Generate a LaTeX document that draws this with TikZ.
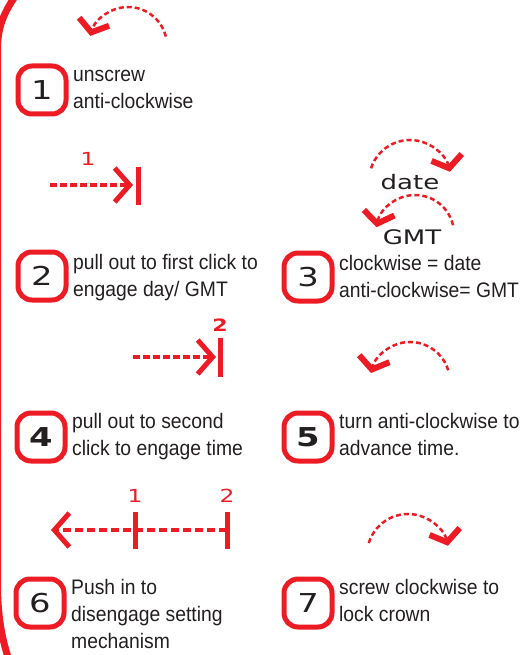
\documentclass[tikz,border=0pt]{standalone}
\usepackage{fontspec}
\setmainfont{Liberation Sans}[FakeStretch=0.92]
\newfontfamily\techfont{DejaVu Sans}[FakeStretch=1.3]
\usetikzlibrary{arrows.meta,positioning}
\definecolor{watchred}{HTML}{ED1C24}
\definecolor{inkgray}{HTML}{231F20}

\begin{document}
\begin{tikzpicture}[x=1pt,y=-1pt]
            \tikzset{
                badge/.style={draw=watchred, line width=5pt, rounded corners=14pt, minimum width=48pt, minimum height=48pt, inner sep=0pt, text=inkgray, font=\techfont\fontsize{26}{26}\selectfont},
                heavy/.style={font=\techfont\bfseries\fontsize{26}{26}\selectfont},
                steptext/.style={align=left, inner sep=0pt, text=inkgray, font=\fontsize{21}{27}\selectfont},
                turn/.style={watchred, line width=2.5pt, dash pattern=on 5pt off 3pt, -{Straight Barb[length=11pt, width=31pt, line width=6pt]}},
                pull/.style={watchred, line width=3.5pt, dash pattern=on 7pt off 3pt, -{Straight Barb[length=15pt, width=34pt, line width=5pt]}},
                click/.style={watchred, line width=5pt},
                marker/.style={text=watchred, inner sep=0pt, font=\techfont\fontsize{18}{18}\selectfont},
                dial/.style={text=inkgray, inner sep=0pt, font=\techfont\fontsize{20}{20}\selectfont}
            }
            \useasboundingbox (0,0) rectangle (529,655);
            \draw[watchred, line width=7pt] (14,-2) .. controls (2,16) and (-2.5,30) .. (-2.5,50) -- (-2.5,585) .. controls (-2.5,615) and (2,640) .. (9,660);

            \node[badge] (b1) at (42,90) {1};
            \node[badge] (b2) at (42,276) {2};
            \node[badge] (b3) at (308,277) {3};
            \node[badge, heavy] (b4) at (41,437) {4};
            \node[badge, heavy] (b5) at (308,437) {5};
            \node[badge] (b6) at (40,603) {6};
            \node[badge] (b7) at (308,603) {7};

            \node[steptext, right=4.5pt of b1] (t1) {\strut unscrew\\anti-clockwise\strut};
            \node[steptext, right=4.5pt of b2, yshift=-2pt] (t2) {\strut pull out to first click to\\engage day/ GMT\strut};
            \node[steptext, right=4.5pt of b3, yshift=-2pt] (t3) {\strut clockwise = date\\anti-clockwise= GMT\strut};
            \node[steptext, right=4.5pt of b4] (t4) {\strut pull out to second\\click to engage time\strut};
            \node[steptext, right=4.5pt of b5] (t5) {\strut turn anti-clockwise to\\advance time.\strut};
            \node[steptext, right=4.5pt of b6, yshift=-13.5pt] (t6) {\strut Push in to\\disengage setting\\mechanism\strut};
            \node[steptext, right=4.5pt of b7] (t7) {\strut screw clockwise to\\lock crown\strut};

            \draw[turn] (128,46) ++(-14:39) arc[start angle=-14, end angle=-165, radius=39];

            \coordinate (p1) at (50,185);
            \coordinate (q1) at (133,185);
            \draw[pull] (p1) -- (q1);
            \draw[click] (138,167) coordinate (c1) -- (138,205);
            \node[marker] (m1) at (88,159) {1};

            \node[dial] (date) at (410,182) {date};
            \node[dial] (gmt) at (412,237) {GMT};
            \draw[turn] (410,181) ++(-162:41) arc[start angle=-162, end angle=-13, radius=41];
            \draw[turn] (415,234) ++(-13:39) arc[start angle=-13, end angle=-170, radius=39];

            \coordinate (p2) at (133,357);
            \coordinate (q2) at (216,357);
            \draw[pull] (p2) -- (q2);
            \draw[click] (220,338) coordinate (c2) -- (220,377);
            \node[marker, font=\techfont\bfseries\fontsize{17}{17}\selectfont] (m2) at (220,325) {2};

            \draw[turn] (410,382) ++(-17:40) arc[start angle=-17, end angle=-167, radius=40];

            \coordinate (s6) at (227,530);
            \coordinate (e6) at (51,530);
            \draw[pull, line width=4.5pt, dash pattern=on 8pt off 4pt] (s6) -- (e6);
            \draw[click] (135,512) coordinate (c61) -- (135,549);
            \draw[click] (227,512) coordinate (c62) -- (227,549);
            \node[marker] (m61) at (135,496) {1};
            \node[marker] (m62) at (227,496) {2};

            \draw[turn] (408,555) ++(-163:41) arc[start angle=-163, end angle=-13, radius=41];
        \end{tikzpicture}
\end{document}
